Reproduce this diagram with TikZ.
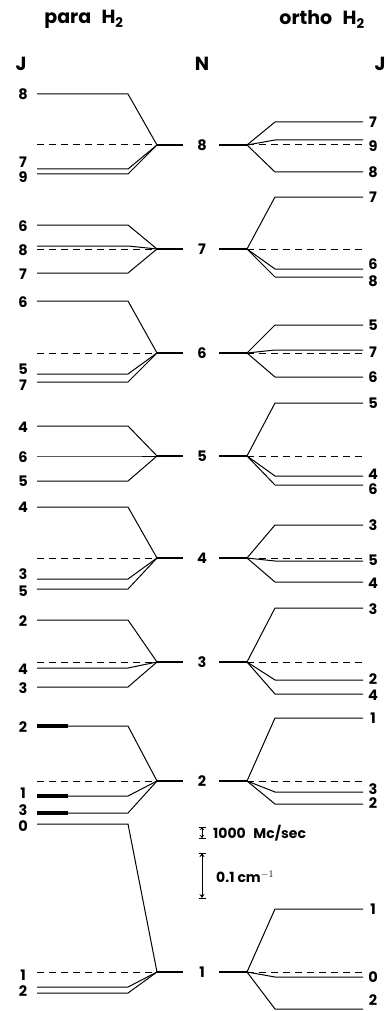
\documentclass[tikz,border=0pt]{standalone}
\usepackage{fontspec}
\setmainfont{Poppins}
\usetikzlibrary{arrows.meta}
\tikzset{
  lvl/.style={line width=1pt, line join=round},
  dashlvl/.style={line width=1pt, dash pattern=on 7pt off 5pt},
  stub/.style={line width=1.8pt},
  thickseg/.style={line width=3.2pt},
  lab/.style={font=\fontsize{14.5}{15}\selectfont\bfseries, inner sep=0pt},
  head/.style={font=\fontsize{19}{21}\selectfont\bfseries, inner sep=0pt},
  scl/.style={font=\fontsize{14}{15}\selectfont\bfseries, inner sep=0pt, anchor=west},
}
\newcommand\paraln[2]{\draw[lvl] (37,#2) -- (128,#2) -- (157,#1);}
\newcommand\ortholn[2]{\draw[lvl] (247,#1) -- (275,#2) -- (363,#2);}
\begin{document}
\begin{tikzpicture}[x=1pt,y=-1pt]
\useasboundingbox (0,0) rectangle (386,1011);
% headers
\node[head] (hpara) at (84,19) {para\,\, H\textsubscript{2}};
\node[head] (hortho) at (322,19) {ortho\,\, H\textsubscript{2}};
\node[head] (hJl) at (21,64) {J};
\node[head] (hN) at (202,64) {N};
\node[head] (hJr) at (380,64) {J};
% N levels, stubs, dashed reference lines
\foreach \n/\y in {8/145,7/249,6/353,5/456,4/558,3/662,2/781,1/972}{
  \node[lab] (N\n) at (202,\y) {\n};
  \draw[stub] (157,\y) -- (183,\y);
  \draw[stub] (219,\y) -- (247,\y);
  \draw[dashlvl] (247,\y) -- (363,\y);
}
\foreach \y in {145,249,353,558,662,781,972}{
  \draw[dashlvl] (37,\y) -- (157,\y);
}
% para levels
\foreach \yn/\ya/\yb/\yc in {145/94/169/174, 249/225/246/273, 353/301/374/382,
  456/426/456/481, 558/507/579/589, 662/620/668/687, 781/726/796/813}{
  \paraln{\yn}{\ya}\paraln{\yn}{\yb}\paraln{\yn}{\yc}
}
\paraln{972}{824}
\paraln{972}{987}
\paraln{972}{993}
\foreach \y in {726,796,813}{\draw[thickseg] (37,\y) -- (68,\y);}
% ortho levels
\foreach \yn/\ya/\yb/\yc in {145/122/140/172, 249/197/269/277, 353/325/350/377,
  456/403/476/485, 558/525/561/582, 662/608/680/694, 781/718/792/804, 972/909/977/1009}{
  \ortholn{\yn}{\ya}\ortholn{\yn}{\yb}\ortholn{\yn}{\yc}
}
% para labels
\foreach \t/\y [count=\i] in {8/94,7/162,9/177, 6/226,8/250,7/274, 6/302,5/369,7/385,
  4/427,6/457,5/481, 4/507,3/574,5/591, 2/621,4/669,3/688, 2/727,1/793,3/810,0/826, 1/975,2/991}{
  \node[lab] (pl\i) at (23,\y) {\t};
}
% ortho labels
\foreach \t/\y [count=\i] in {7/122,9/146,8/172, 7/197,6/264,8/281, 5/325,7/352,6/377,
  5/403,4/474,6/489, 3/525,5/560,4/583, 3/609,2/679,4/695, 1/718,3/789,2/803, 1/909,0/977,2/1000}{
  \node[lab] (ol\i) at (373,\y) {\t};
}
% scale bars
\coordinate (s1t) at (202,827);
\coordinate (s1b) at (202,838);
\draw[line width=0.9pt, {Stealth[length=3pt,width=4.5pt]}-{Stealth[length=3pt,width=4.5pt]}] (s1t) -- (s1b);
\draw[line width=1pt] ([xshift=-3.5pt]s1t) -- ([xshift=3.5pt]s1t) ([xshift=-3.5pt]s1b) -- ([xshift=3.5pt]s1b);
\node[scl] (t1) at (213,833) {1000\,\, Mc/sec};
\coordinate (s2t) at (202,853);
\coordinate (s2b) at (202,898);
\draw[line width=0.9pt, {Stealth[length=4pt,width=5pt]}-{Stealth[length=4pt,width=5pt]}] (s2t) -- (s2b);
\draw[line width=1pt] ([xshift=-3.5pt]s2t) -- ([xshift=3.5pt]s2t) ([xshift=-3.5pt]s2b) -- ([xshift=3.5pt]s2b);
\node[scl] (t2) at (216,877) {0.1 cm$^{-1}$};
\end{tikzpicture}
\end{document}
